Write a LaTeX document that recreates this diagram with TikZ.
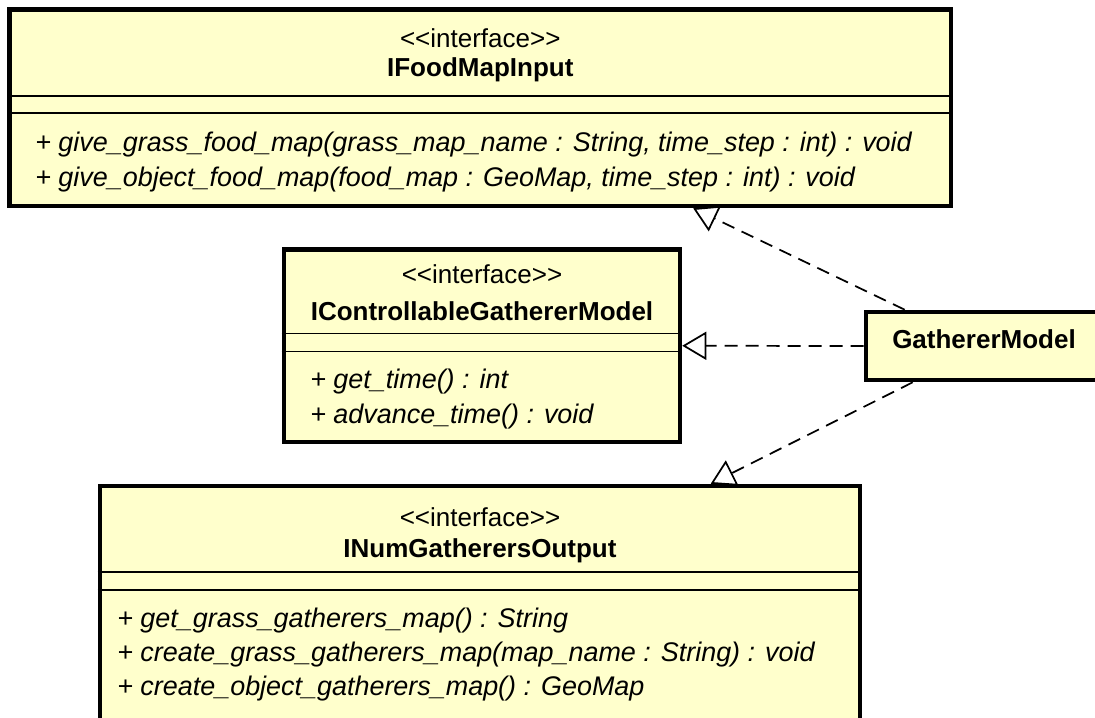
\documentclass[tikz,border=0pt]{standalone}
\usepackage{fontspec}
\setmainfont{Liberation Sans}
\usetikzlibrary{arrows.meta,calc}
\newdimen\pxu \pxu=0.75pt
\definecolor{classfill}{HTML}{FFFFCC}
\pgfdeclarelayer{connectors}
\pgfsetlayers{connectors,main}

\begin{document}
\begin{tikzpicture}[x=0.75pt, y=-0.75pt,
  umlbox/.style={draw=black, fill=classfill, line width=3.4pt, rectangle, inner sep=0pt},
  sepline/.style={line width=1.4pt},
  stereo/.style={anchor=base, inner sep=0pt, font=\fontsize{19.5}{23}\selectfont},
  cname/.style={anchor=base, inner sep=0pt, font=\fontsize{19.5}{23}\selectfont\bfseries},
  oper/.style={anchor=base west, inner sep=0pt, font=\fontsize{20.2}{24}\selectfont\itshape},
  realize/.style={line width=1.3pt, dash pattern=on 9.75pt off 6pt,
    -{Triangle[length=18pt, width=21pt, fill=white]}}
]
\useasboundingbox (0,0) rectangle (1095,717);
\clip (0,0) rectangle (1095,717);

% IFoodMapInput
\node[umlbox, minimum width=941.5\pxu, minimum height=196.5\pxu] (food) at (480.25,107.75) {};
\draw[sepline] (food.west |- 0,96) -- (food.east |- 0,96);
\draw[sepline] (food.west |- 0,113) -- (food.east |- 0,113);
\node[stereo] (food-st) at (480.25,48) {<\kern0pt<interface>\kern0pt>};
\node[cname] (food-nm) at (480.25,77) {IFoodMapInput};
\node[oper] (food-op1) at (35,151) {+ give\_grass\_food\_map(grass\_map\_name : String, time\_step : int) : void};
\node[oper] (food-op2) at (35,186) {+ give\_object\_food\_map(food\_map : GeoMap, time\_step : int) : void};

% IControllableGathererModel
\node[umlbox, minimum width=396\pxu, minimum height=192.5\pxu] (ctrl) at (482,345.75) {};
\draw[sepline] (ctrl.west |- 0,333.5) -- (ctrl.east |- 0,333.5);
\draw[sepline] (ctrl.west |- 0,351.5) -- (ctrl.east |- 0,351.5);
\node[stereo] (ctrl-st) at (482,283) {<\kern0pt<interface>\kern0pt>};
\node[cname] (ctrl-nm) at (482,320) {IControllableGathererModel};
\node[oper] (ctrl-op1) at (310,388) {+ get\_time() : int};
\node[oper] (ctrl-op2) at (310,423) {+ advance\_time() : void};

% INumGatherersOutput
\node[umlbox, minimum width=760\pxu, minimum height=236\pxu] (outp) at (480,604) {};
\draw[sepline] (outp.west |- 0,572) -- (outp.east |- 0,572);
\draw[sepline] (outp.west |- 0,590) -- (outp.east |- 0,590);
\node[stereo] (outp-st) at (480,526) {<\kern0pt<interface>\kern0pt>};
\node[cname] (outp-nm) at (480,557) {INumGatherersOutput};
\node[oper] (outp-op1) at (117,627) {+ get\_grass\_gatherers\_map() : String};
\node[oper] (outp-op2) at (117,661) {+ create\_grass\_gatherers\_map(map\_name : String) : void};
\node[oper] (outp-op3) at (117,695) {+ create\_object\_gatherers\_map() : GeoMap};

% GathererModel
\node[umlbox, minimum width=232\pxu, minimum height=68\pxu] (gm) at (982,346) {};
\node[cname] (gm-nm) at (984,348) {GathererModel};

% realization connectors, drawn beneath the class boxes
\begin{pgfonlayer}{connectors}
\draw[realize] ($(gm.north west)+(41,0)$) -- ($(food.south west)+(686,0)$);
\draw[realize] (gm.west) -- (ctrl.east);
\draw[realize] ($(gm.south west)+(49,0)$) -- ($(outp.north west)+(613,0)$);
\end{pgfonlayer}
\end{tikzpicture}
\end{document}
